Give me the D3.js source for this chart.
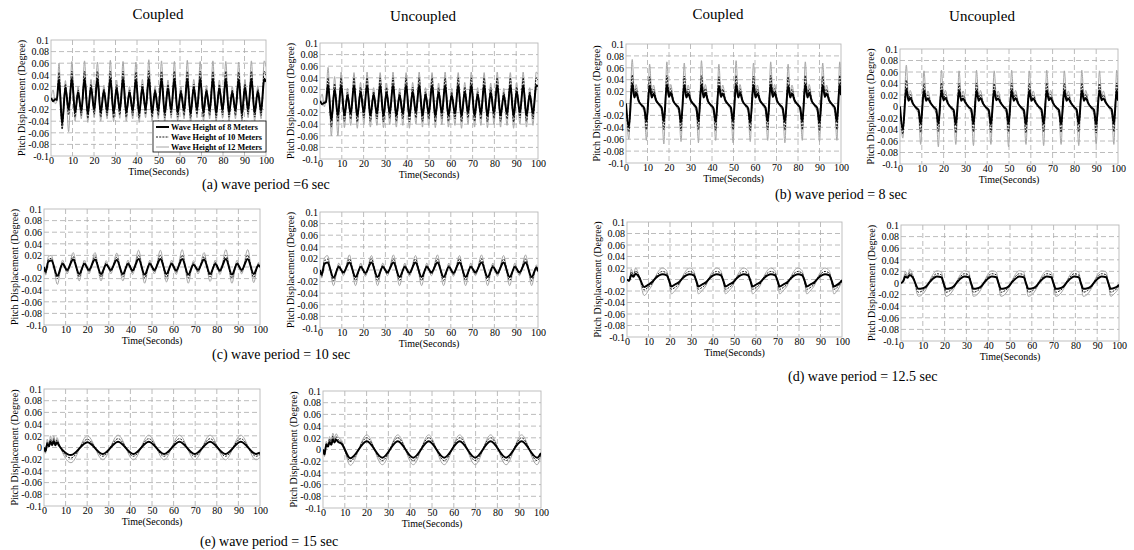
<!DOCTYPE html>
<html><head><meta charset="utf-8">
<script src="https://cdn.jsdelivr.net/npm/d3@7"></script>
<style>
body{margin:0;background:#fff}
svg{display:block}
text{font-family:"Liberation Serif","Times New Roman",serif !important;fill:#000}
</style>
</head><body>
<svg id="chart" width="1134" height="550"></svg>
<script>
// ---------------- data (pitch values in 1/1000 degree) ----------------
const MILLI = 0.001;
const xTicks = [0,10,20,30,40,50,60,70,80,90,100];
const xTickLabels = ["0","10","20","30","40","50","60","70","80","90","100"];
const yTicks = [0.1,0.08,0.06,0.04,0.02,0,-0.02,-0.04,-0.06,-0.08,-0.1];
const yTickLabels = ["0.1","0.08","0.06","0.04","0.02","0","-0.02","-0.04","-0.06","-0.08","-0.1"];
const seriesNames = ["Wave Height of 8 Meters","Wave Height of 10 Meters","Wave Height of 12 Meters"];
const columnTitles = ["Coupled","Uncoupled"];
const captions = ["(a) wave period =6 sec","(b) wave period = 8 sec","(c)  wave period = 10 sec","(d)  wave period = 12.5 sec","(e) wave period = 15 sec"];

// (a) wave period 6 s
const tA = [0,1,2,2.7,
3.7,5.2,6.7,8.2, 9.7,11.2,12.6,14.1, 15.6,17.1,18.6,20.1, 21.6,23.1,24.6,26.1,
27.6,29.1,30.5,32.0, 33.5,35.0,36.5,38.0, 39.5,41.0,42.5,44.0, 45.5,47.0,48.4,49.9,
51.4,52.9,54.4,55.9, 57.4,58.9,60.4,61.9, 63.4,64.9,66.4,67.9, 69.4,70.9,72.3,73.8,
75.3,76.8,78.3,79.8, 81.3,82.8,84.3,85.8, 87.3,88.8,90.2,91.7, 93.2,94.7,96.2,97.7,
99.2,100];
const aC8 = [0,-5,-2,-3,
32,-44,18,-20, 33,-25,10,-22, 33,-27,18,-20, 33,-25,12,-22,
33,-26,17,-21, 33,-25,10,-22, 32,-27,18,-20, 34,-25,11,-22,
33,-26,17,-21, 33,-25,10,-22, 33,-27,18,-20, 33,-25,12,-22,
33,-26,17,-21, 33,-25,10,-22, 32,-27,18,-20, 33,-25,11,-22,
33,28];
const aC10 = [0,-7,-3,-5,
44,-54,24,-29, 46,-33,14,-30, 46,-35,24,-28, 46,-33,16,-30,
46,-34,23,-29, 46,-33,14,-30, 45,-35,24,-28, 47,-33,15,-30,
46,-34,23,-29, 46,-33,14,-30, 46,-35,24,-28, 46,-33,16,-30,
46,-34,23,-29, 46,-33,14,-30, 45,-35,24,-28, 46,-33,15,-30,
46,39];
const aC12 = [0,14,-10,-6,
60,-52,30,-58, 63,-40,20,-36, 64,-42,32,-34, 62,-40,22,-36,
65,-41,31,-35, 63,-40,20,-36, 62,-42,32,-34, 66,-40,21,-36,
64,-41,31,-35, 63,-40,20,-36, 65,-42,32,-34, 63,-40,22,-36,
64,-41,31,-35, 63,-40,20,-36, 62,-42,32,-34, 64,-40,21,-36,
64,54];
const aU8 = [0,-5,-3,-2,
28,-33,20,-25, 27,-25,10,-22, 27,-26,16,-20, 27,-25,11,-22,
27,-26,15,-21, 27,-25,10,-22, 27,-26,16,-20, 27,-25,11,-22,
27,-26,15,-21, 27,-25,10,-22, 27,-26,16,-20, 27,-25,11,-22,
27,-26,15,-21, 27,-25,10,-22, 27,-26,16,-20, 27,-25,11,-22,
27,25];
const aU10 = [0,-7,-4,-3,
40,-45,30,-36, 40,-35,15,-31, 40,-36,24,-29, 40,-35,16,-31,
40,-36,23,-30, 40,-35,15,-31, 40,-36,24,-29, 40,-35,16,-31,
40,-36,23,-30, 40,-35,15,-31, 40,-36,24,-29, 40,-35,16,-31,
40,-36,23,-30, 40,-35,15,-31, 40,-36,24,-29, 40,-35,16,-31,
40,36];
const aU12 = [0,12,-10,5,
58,-60,42,-60, 50,-46,22,-42, 49,-47,32,-40, 50,-45,23,-42,
49,-46,31,-41, 50,-45,22,-42, 49,-47,32,-40, 50,-45,23,-42,
49,-46,31,-41, 50,-45,22,-42, 49,-47,32,-40, 50,-45,23,-42,
49,-46,31,-41, 50,-45,22,-42, 49,-47,32,-40, 50,-45,23,-42,
50,46];

// (b) wave period 8 s
const tB = [0,1.3,
2.9,3.9,4.7,5.9,7.4,8.5,9.5,
11.0,12.0,12.8,14.0,15.5,16.6,17.6,
19.0,20.0,20.8,22.0,23.5,24.6,25.6,
27.1,28.1,28.9,30.1,31.6,32.7,33.7,
35.1,36.1,36.9,38.1,39.6,40.7,41.7,
43.2,44.2,45.0,46.2,47.7,48.8,49.8,
51.2,52.2,53.0,54.2,55.7,56.8,57.8,
59.3,60.3,61.1,62.3,63.8,64.9,65.9,
67.3,68.3,69.1,70.3,71.8,72.9,73.9,
75.4,76.4,77.2,78.4,79.9,81.0,82.0,
83.4,84.4,85.2,86.4,87.9,89.0,90.0,
91.5,92.5,93.3,94.5,96.0,97.1,98.1,
99.4,100];
const bC8 = [0,-40,
33,10,18,4,-3,-8,-30, 30,10,17,5,-2,-7,-30, 32,11,18,4,-3,-8,-32,
31,10,17,5,-2,-7,-30, 32,10,18,4,-3,-8,-31, 30,11,17,5,-2,-7,-30,
32,10,18,4,-3,-8,-32, 31,10,17,5,-2,-7,-30, 32,11,18,4,-3,-8,-31,
30,10,17,5,-2,-7,-30, 32,10,18,4,-3,-8,-32, 31,11,17,5,-2,-7,-30,
32,14];
const bC10 = [0,-48,
48,14,25,6,-4,-11,-44, 45,14,24,7,-3,-10,-44, 47,15,25,6,-4,-11,-46,
46,14,24,7,-3,-10,-44, 47,14,25,6,-4,-11,-45, 45,15,24,7,-3,-10,-44,
47,14,25,6,-4,-11,-46, 46,14,24,7,-3,-10,-44, 47,15,25,6,-4,-11,-45,
45,14,24,7,-3,-10,-44, 47,14,25,6,-4,-11,-46, 46,15,24,7,-3,-10,-44,
47,20];
const bC12 = [0,-60,
74,18,32,8,-6,-15,-62, 66,18,31,9,-5,-14,-68, 70,19,32,8,-6,-15,-64,
68,18,31,9,-5,-14,-66, 72,18,32,8,-6,-15,-62, 66,19,31,9,-5,-14,-66,
72,18,32,8,-6,-15,-64, 68,18,31,9,-5,-14,-62, 70,19,32,8,-6,-15,-66,
66,18,31,9,-5,-14,-62, 70,18,32,8,-6,-15,-64, 68,19,31,9,-5,-14,-62,
70,28];
const bU8 = [0,-40,
31,10,15,5,-2,-6,-30, 28,10,14,6,-1,-5,-30, 28,11,15,5,-2,-6,-31,
28,10,14,6,-1,-5,-30, 28,10,15,5,-2,-6,-31, 28,11,14,6,-1,-5,-30,
28,10,15,5,-2,-6,-31, 28,10,14,6,-1,-5,-30, 28,11,15,5,-2,-6,-31,
28,10,14,6,-1,-5,-30, 28,10,15,5,-2,-6,-31, 28,11,14,6,-1,-5,-30,
28,10];
const bU10 = [0,-48,
46,13,21,7,-3,-10,-45, 40,13,20,8,-2,-9,-44, 41,14,21,7,-3,-10,-46,
40,13,20,8,-2,-9,-44, 41,13,21,7,-3,-10,-45, 40,14,20,8,-2,-9,-44,
41,13,21,7,-3,-10,-46, 40,13,20,8,-2,-9,-44, 41,14,21,7,-3,-10,-45,
40,13,20,8,-2,-9,-44, 41,13,21,7,-3,-10,-46, 40,14,20,8,-2,-9,-44,
41,16];
const bU12 = [0,-55,
72,17,28,9,-5,-14,-66, 62,17,27,10,-4,-13,-70, 63,18,28,9,-5,-14,-66,
62,17,27,10,-4,-13,-68, 63,17,28,9,-5,-14,-66, 62,18,27,10,-4,-13,-70,
63,17,28,9,-5,-14,-66, 62,17,27,10,-4,-13,-68, 63,18,28,9,-5,-14,-66,
62,17,27,10,-4,-13,-68, 63,17,28,9,-5,-14,-66, 62,18,27,10,-4,-13,-66,
63,24];

// (c) wave period 10 s
const tC = [0,0.8,2,
3.4,6.2,8.6,10.7, 13.5,16.3,18.7,20.8, 23.6,26.4,28.8,30.9, 33.7,36.5,38.9,41.0,
43.8,46.6,49.0,51.1, 53.9,56.7,59.1,61.2, 64.0,66.8,69.2,71.3, 74.1,76.9,79.3,81.4,
84.2,87.0,89.4,91.5, 94.3,97.1,99.3,100];
const cC8 = [0,-8,9,
11,-15,5,-5, 13,-12,5,-5, 13,-12,4,-5, 12,-12,5,-6, 14,-13,5,-5,
14,-12,5,-6, 14,-13,4,-5, 13,-12,5,-6, 14,-13,5,-5, 14,-12,3,0];
const cC10 = [0,-11,13,
15,-20,8,-8, 18,-17,8,-8, 18,-17,7,-8, 17,-17,8,-9, 20,-19,8,-8,
20,-18,8,-9, 20,-19,7,-8, 18,-17,8,-9, 20,-19,8,-8, 20,-18,5,-1];
const cC12 = [0,-14,18,
20,-30,12,-12, 25,-24,12,-12, 25,-24,11,-12, 24,-24,12,-13, 29,-28,12,-12,
29,-26,12,-13, 30,-28,11,-12, 25,-25,12,-13, 30,-28,12,-12, 30,-27,8,-2];
const cU8 = [0,-8,10,
13,-13,5,-4, 13,-12,5,-5, 13,-12,5,-4, 13,-12,5,-5, 13,-12,5,-4,
13,-12,5,-5, 13,-12,5,-4, 13,-12,5,-5, 13,-12,5,-4, 13,-12,4,-2];
const cU10 = [0,-11,15,
19,-19,8,-7, 19,-18,8,-8, 19,-18,8,-7, 19,-18,8,-8, 19,-18,8,-7,
19,-18,8,-8, 19,-18,8,-7, 19,-18,8,-8, 19,-18,8,-7, 19,-18,6,-3];
const cU12 = [0,-14,20,
25,-27,12,-10, 26,-27,12,-11, 25,-27,12,-10, 26,-27,12,-11, 25,-27,12,-10,
26,-27,12,-11, 25,-27,12,-10, 26,-27,12,-11, 25,-27,12,-10, 26,-27,9,-4];

// (d) wave period 12.5 s
const tD = [0,1,2,3,4,5.5,
8.0,10.0,11.5,13.5,16.5,18.5,19.6,
20.6,22.6,24.1,26.1,29.1,31.1,32.2,
33.2,35.2,36.7,38.7,41.7,43.7,44.8,
45.8,47.8,49.3,51.3,54.3,56.3,57.4,
58.4,60.4,61.9,63.9,66.9,68.9,70.0,
71.0,73.0,74.5,76.5,79.5,81.5,82.6,
83.6,85.6,87.1,89.1,92.1,94.1,95.2,
96.2,98.2,99.2,100];
const dC8 = [0,-2,8,5,10,5,
-13,-9,-5,3,9,7,-2, -12,-8,-5,3,9,7,-2, -12,-8,-5,3,9,7,-2, -12,-8,-5,3,9,7,-2,
-12,-8,-5,3,9,7,-2, -12,-8,-5,3,9,7,-2, -12,-8,-5,3,9,7,-2,
-12,-8,-5,-1];
const dC10 = [0,-3,13,7,15,7,
-18,-13,-8,5,14,11,-3, -17,-13,-8,5,14,11,-3, -17,-13,-8,5,14,11,-3, -17,-13,-8,5,14,11,-3,
-17,-13,-8,5,14,11,-3, -17,-13,-8,5,14,11,-3, -17,-13,-8,5,14,11,-3,
-17,-12,-7,-2];
const dC12 = [0,-3,18,8,20,8,
-28,-19,-11,7,20,15,-4, -25,-18,-11,7,20,15,-4, -25,-18,-11,7,20,15,-4, -25,-18,-11,7,20,15,-4,
-25,-18,-11,7,20,15,-4, -25,-18,-11,7,20,15,-4, -25,-18,-11,7,20,15,-4,
-25,-17,-10,-3];
const dU8 = [0,3,11,9,14,9,
-10,-9,-6,3,11,10,-1, -10,-9,-6,3,11,10,-1, -10,-9,-6,3,11,10,-1, -10,-9,-6,3,11,10,-1,
-10,-9,-6,3,11,10,-1, -10,-9,-6,3,11,10,-1, -10,-9,-6,3,11,10,-1,
-10,-8,-6,-3];
const dU10 = [0,4,15,11,18,11,
-16,-13,-8,5,16,14,-2, -16,-13,-8,5,16,14,-2, -16,-13,-8,5,16,14,-2, -16,-13,-8,5,16,14,-2,
-16,-13,-8,5,16,14,-2, -16,-13,-8,5,16,14,-2, -16,-13,-8,5,16,14,-2,
-16,-12,-9,-4];
const dU12 = [0,5,20,13,24,13,
-23,-19,-11,7,21,19,-3, -23,-19,-11,7,21,19,-3, -23,-19,-11,7,21,19,-3, -23,-19,-11,7,21,19,-3,
-23,-19,-11,7,21,19,-3, -23,-19,-11,7,21,19,-3, -23,-19,-11,7,21,19,-3,
-23,-17,-13,-6];

// (e) wave period 15 s
const tE = [0,0.7,1.5,2.3,3,3.8,4.5,5.3,6,7,8.5,
12.5,20.1,27.2,34.3,41.4,48.5,55.6,62.7,69.8,76.9,84.0,91.1,98.2,100];
const eC8 = [0,-6,6,2,10,4,11,4,9,3,-4,
-13,9,-11,10,-11,10,-11,10,-11,10,-11,10,-11,-9];
const eC10 = [0,-8,10,4,14,6,15,6,13,5,-6,
-18,14,-15,15,-15,15,-15,15,-15,15,-15,15,-15,-12];
const eC12 = [0,-10,14,6,20,8,20,8,17,7,-8,
-26,20,-21,21,-21,21,-21,21,-21,21,-21,21,-21,-17];
const eU8 = [0,-8,8,5,13,8,17,12,17,13,10,
-15,14,-14,14,-14,14,-14,14,-14,14,-14,14,-14,-6];
const eU10 = [0,-10,11,7,18,11,23,16,22,17,13,
-20,20,-19,20,-19,20,-19,20,-19,20,-19,20,-19,-8];
const eU12 = [0,-12,14,9,22,14,28,20,27,21,16,
-27,25,-26,25,-26,25,-26,25,-26,25,-26,25,-26,-10];

// ---------------- layout ----------------
const panels = [
  {t:tA, s:[aC8,aC10,aC12], box:{l:51, r:266, t:40, b:156}, legend:true},
  {t:tA, s:[aU8,aU10,aU12], box:{l:320,r:538, t:43, b:159}},
  {t:tB, s:[bC8,bC10,bC12], box:{l:626,r:841, t:44, b:163}},
  {t:tB, s:[bU8,bU10,bU12], box:{l:900,r:1118,t:49, b:164}},
  {t:tC, s:[cC8,cC10,cC12], box:{l:44, r:260, t:209,b:325}},
  {t:tC, s:[cU8,cU10,cU12], box:{l:320,r:538, t:212,b:328}},
  {t:tD, s:[dC8,dC10,dC12], box:{l:627,r:842, t:222,b:337}},
  {t:tD, s:[dU8,dU10,dU12], box:{l:901,r:1119,t:225,b:341}},
  {t:tE, s:[eC8,eC10,eC12], box:{l:44, r:260, t:389,b:506}},
  {t:tE, s:[eU8,eU10,eU12], box:{l:323,r:541, t:391,b:508}}
];
const titlePos = [{x:158,y:19,i:0},{x:423,y:21,i:1},{x:718,y:19,i:0},{x:982,y:21,i:1}];
const captionPos = [{x:202,y:189},{x:775,y:199},{x:212,y:359},{x:788,y:381},{x:200,y:546}];
const seriesStyle = [
  {stroke:"#000", width:2, dash:null},
  {stroke:"#000", width:0.9, dash:"2,1.2"},
  {stroke:"#a6a6a6", width:1, dash:null}
];
const SERIF = '"Liberation Serif","Times New Roman",serif';

const svg = d3.select("#chart");

titlePos.forEach(p => svg.append("text").attr("x",p.x).attr("y",p.y).style("font-family",SERIF)
  .attr("text-anchor","middle").attr("font-size",15).text(columnTitles[p.i]));
captionPos.forEach((p,i) => svg.append("text").attr("x",p.x).attr("y",p.y).style("font-family",SERIF)
  .attr("font-size",14).text(captions[i]));

panels.forEach((p,pi) => {
  const B = p.box;
  const x = d3.scaleLinear().domain([0,100]).range([B.l,B.r]);
  const y = d3.scaleLinear().domain([-0.1,0.1]).range([B.b,B.t]);
  const g = svg.append("g");

  // dashed grid
  g.selectAll(".gx").data(xTicks.slice(1,-1)).join("line")
    .attr("x1",d=>x(d)).attr("x2",d=>x(d)).attr("y1",B.t).attr("y2",B.b)
    .attr("stroke","#ababab").attr("stroke-width",0.8).attr("stroke-dasharray","5,3");
  g.selectAll(".gy").data(yTicks.slice(1,-1)).join("line")
    .attr("y1",d=>y(d)).attr("y2",d=>y(d)).attr("x1",B.l).attr("x2",B.r)
    .attr("stroke","#ababab").attr("stroke-width",0.8).attr("stroke-dasharray","5,3");
  g.append("rect").attr("x",B.l).attr("y",B.t).attr("width",B.r-B.l).attr("height",B.b-B.t)
    .attr("fill","none").attr("stroke","#b8b8b8").attr("stroke-width",0.9);

  // clip
  const cid = "clip"+pi;
  g.append("clipPath").attr("id",cid).append("rect")
    .attr("x",B.l).attr("y",B.t-2).attr("width",B.r-B.l).attr("height",B.b-B.t+4);

  const line = d3.line().x((d,i)=>x(p.t[i])).y(d=>y(d*MILLI)).curve(d3.curveMonotoneX);
  [2,1,0].forEach(si => {
    const st = seriesStyle[si];
    g.append("path").attr("clip-path",`url(#${cid})`).attr("d",line(p.s[si]))
      .attr("fill","none").attr("stroke",st.stroke).attr("stroke-width",st.width)
      .attr("stroke-dasharray",st.dash).attr("stroke-linejoin","round");
  });

  // axes
  const ax = g.append("g").attr("transform",`translate(0,${B.b})`)
    .call(d3.axisBottom(x).tickValues(xTicks).tickFormat((d,i)=>xTickLabels[i]).tickSize(0).tickPadding(1));
  const ay = g.append("g").attr("transform",`translate(${B.l},0)`)
    .call(d3.axisLeft(y).tickValues(yTicks).tickFormat((d,i)=>yTickLabels[i]).tickSize(0).tickPadding(2));
  [ax,ay].forEach(a => {
    a.attr("font-family",null).attr("font-size",null);
    a.select(".domain").remove();
    a.selectAll("text").style("font-family",SERIF).style("font-size","10px").attr("fill","#000");
  });

  g.append("text").attr("x",(B.l+B.r)/2).attr("y",B.b+19).attr("text-anchor","middle")
    .style("font-family",SERIF).style("font-size","10px").text("Time(Seconds)");
  g.append("text").attr("transform",`translate(${B.l-26},${(B.t+B.b)/2}) rotate(-90)`)
    .attr("text-anchor","middle").style("font-family",SERIF).style("font-size","10px")
    .text("Pitch Displacement (Degree)");

  if (p.legend) {
    const L = {x:B.r-113, y:B.b-35, w:113, h:31};
    const lg = g.append("g");
    lg.append("rect").attr("x",L.x).attr("y",L.y).attr("width",L.w).attr("height",L.h)
      .attr("fill","#fff").attr("stroke","#000").attr("stroke-width",0.8);
    seriesNames.forEach((name,i) => {
      const yy = L.y + 6 + i*10;
      const st = seriesStyle[i];
      lg.append("line").attr("x1",L.x+3).attr("x2",L.x+16).attr("y1",yy).attr("y2",yy)
        .attr("stroke",st.stroke).attr("stroke-width",st.width).attr("stroke-dasharray",st.dash);
      lg.append("text").attr("x",L.x+18).attr("y",yy+3).style("font-family",SERIF)
        .style("font-size","8.2px").attr("font-weight","bold").text(name);
    });
  }
});
</script>
</body></html>
